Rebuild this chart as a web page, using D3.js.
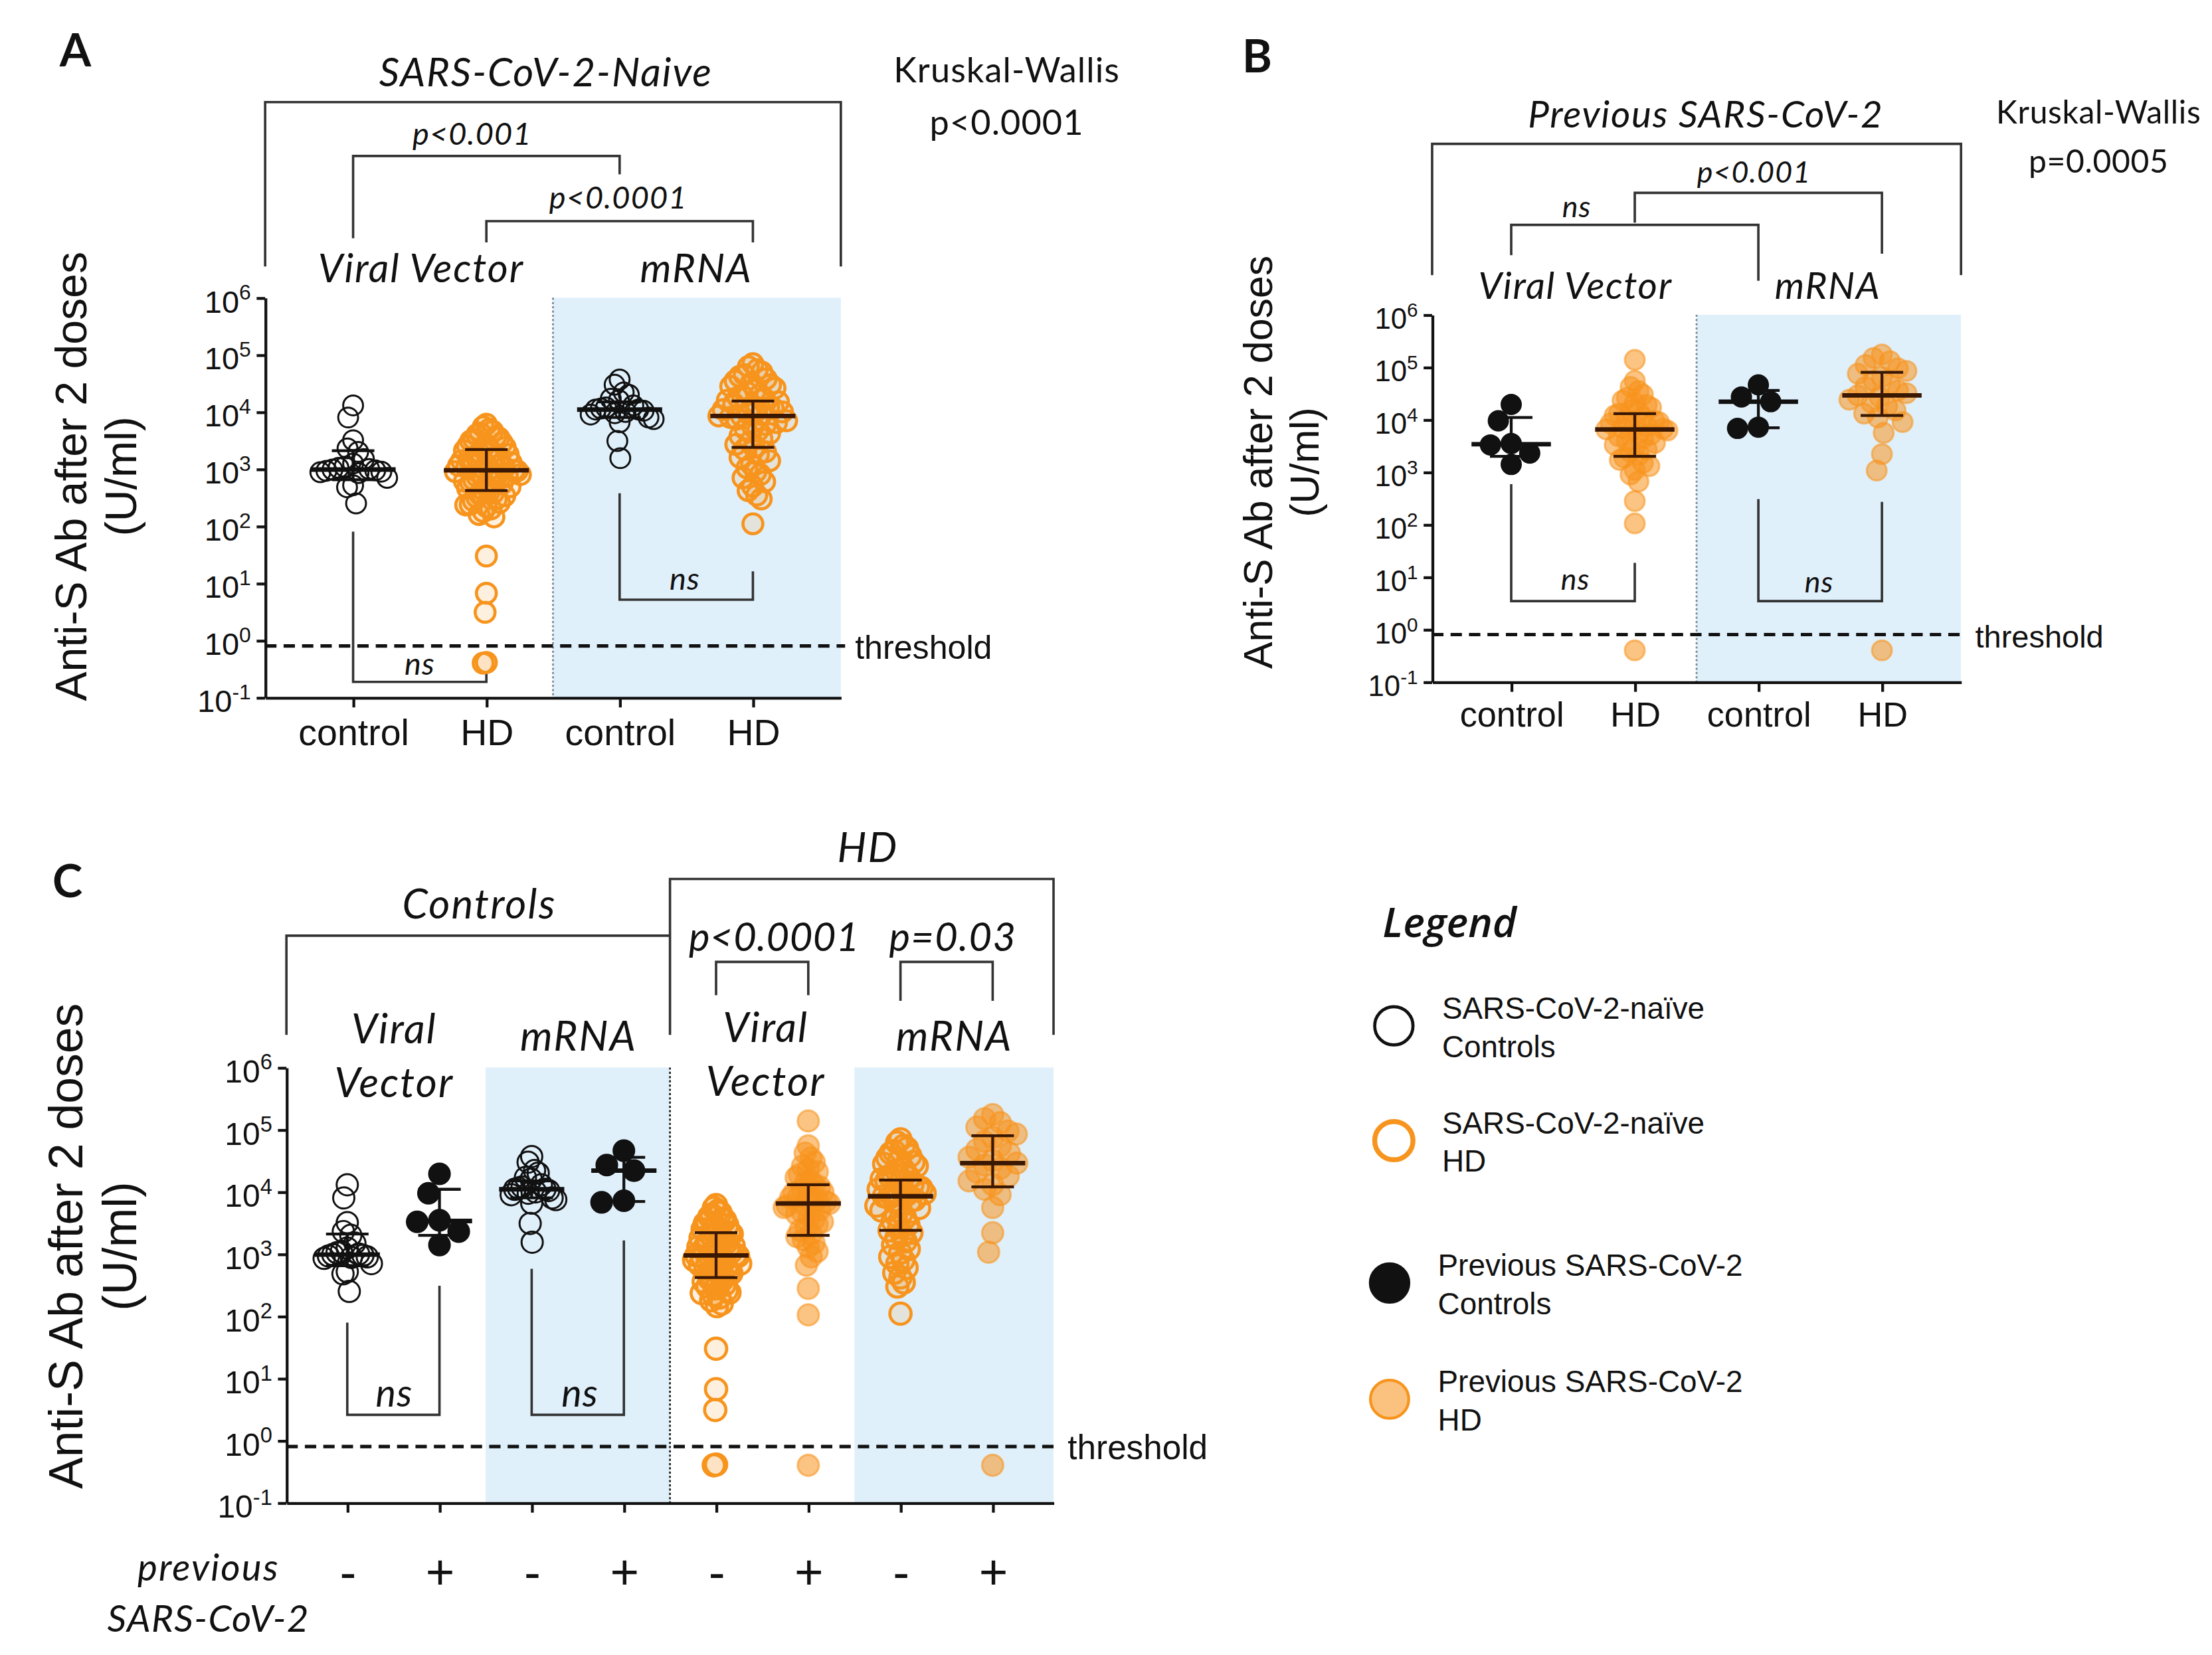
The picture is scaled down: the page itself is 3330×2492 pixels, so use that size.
<!DOCTYPE html>
<html lang="en">
<head>
<meta charset="UTF-8">
<title>Anti-S Ab after 2 doses</title>
<style>
  body { margin: 0; background: #fff; }
  svg { display: block; }
</style>
<script src="https://d3js.org/d3.v7.min.js"></script>
</head>
<body>
<div id="chart"></div>
<script>
// ---------------------------------------------
// Data: anti-S antibody (U/ml)
// ---------------------------------------------
const naiveCtrlVV = [13000, 8000, 3200, 2300, 2000, 1500, 1250, 1100, 1050, 1000, 980, 950, 930, 900, 880, 850, 700, 520, 480, 250];
const naiveHdVV = [6100, 5500, 5000, 4600, 4300, 4000, 3700, 3500, 3300, 3100, 2900, 2700, 2500, 2400, 2300, 2200, 2100, 2000,
  1900, 1800, 1700, 1600, 1500, 1450, 1400, 1350, 1300, 1250, 1200, 1150, 1100, 1050, 1000, 980, 950, 930, 900, 870, 840, 800,
  770, 740, 700, 670, 640, 610, 580, 550, 520, 490, 460, 430, 400, 380, 360, 340, 320, 300, 280, 260, 240, 235, 220, 200, 180,
  160, 145, 30, 6.7, 3.1, 0.41, 0.4];
const naiveCtrlMrna = [37000, 30000, 22000, 20000, 17000, 16000, 13000, 12000, 11500, 11000, 11000, 10500, 10000, 9500, 9000, 8000, 7500, 6600, 3100, 1550];
const naiveHdMrna = [70000, 62000, 55000, 50000, 45000, 42000, 38000, 35000, 32000, 30000, 28000, 26000, 24000, 22000, 20000,
  19000, 18000, 17000, 16000, 15000, 14000, 13000, 12000, 11500, 11000, 10500, 10000, 9500, 9000, 8500, 8500, 8000, 7500, 7000,
  6500, 6000, 5500, 5000, 4600, 4200, 3800, 3400, 3000, 2700, 2400, 2200, 2000, 1800, 1600, 1400, 1200, 1050, 900, 800, 700,
  600, 500, 420, 350, 300, 110];
const prevCtrlVV = [19500, 9500, 3500, 3300, 2300, 1400];
const prevHdVV = [138000, 55000, 42000, 35000, 30000, 26000, 23000, 21000, 19000, 17000, 15000, 14000, 13000, 12000, 11000,
  10000, 9500, 9000, 8500, 8000, 7500, 7000, 6700, 6500, 6200, 6000, 5600, 5200, 4800, 4400, 4000, 3600, 3300, 3000, 2700,
  2400, 2100, 1900, 1700, 1500, 1300, 1100, 900, 660, 280, 105, 0.4];
const prevCtrlMrna = [46000, 27000, 22000, 7200, 6800];
const prevHdMrna = [175000, 150000, 130000, 110000, 95000, 85000, 75000, 65000, 55000, 48000, 42000, 36000, 32000, 29000,
  27000, 24000, 21000, 18000, 15000, 13000, 11000, 9000, 5600, 2200, 1070, 0.4];

// median, 25th and 75th percentile drawn in the figure
const naiveCtrlVVStats = [980, 650, 2100];
const naiveHdVVStats = [950, 420, 2200];
const naiveCtrlMrnaStats = [11000, 8000, 15000];
const naiveHdMrnaStats = [8500, 2400, 15500];
const prevCtrlVVStats = [3400, 2000, 11000];
const prevHdVVStats = [6500, 2000, 13000];
const prevCtrlMrnaStats = [22000, 7000, 36000];
const prevHdMrnaStats = [29000, 12000, 80000];

const yTickExps = [-1, 0, 1, 2, 3, 4, 5, 6];
const threshold = 0.8;
const catLabelsAB = ["control", "HD", "control", "HD"];
const catLabelsC = ["-", "+", "-", "+", "-", "+", "-", "+"];

// ---------------------------------------------
// Setup
// ---------------------------------------------
const W = 1560, H = 1167.4;
const svg = d3.select("#chart").append("svg")
  .attr("width", 3330).attr("height", 2492)
  .attr("viewBox", `0 0 ${W} ${H}`);
svg.append("rect").attr("width", W).attr("height", H).attr("fill", "#fff");

const CAL = "Lato, 'Open Sans', sans-serif";
const ARI = "'Liberation Sans', Arial, sans-serif";
const INK = "#111";
const ORANGE = "#F7941D";
const BAND = "#E0F0FB";

const markStyle = {
  naiveCtrl: {fill: "none", fo: 1, stroke: INK, so: 1, sw: 1.4, bar: INK},
  naiveHd: {fill: ORANGE, fo: 0.14, stroke: ORANGE, so: 1, sw: 2.2, bar: "#3a1803"},
  prevCtrl: {fill: INK, fo: 1, stroke: INK, so: 1, sw: 1, bar: INK},
  prevHd: {fill: ORANGE, fo: 0.55, stroke: ORANGE, so: 0.55, sw: 1.5, bar: "#3a1803"}
};

function label(x, y, s, size, opt = {}) {
  return svg.append("text").attr("x", x).attr("y", y)
    .attr("font-family", opt.font || CAL)
    .attr("font-size", size)
    .attr("font-style", opt.italic ? "italic" : "normal")
    .attr("font-weight", opt.weight || (opt.bold ? "bold" : "normal"))
    .attr("letter-spacing", opt.ls || (opt.font ? 0 : 0.5))
    .attr("text-anchor", opt.anchor || "middle")
    .attr("fill", INK)
    .text(s);
}

// beeswarm: push each point sideways until it clears the ones already placed,
// then squeeze the whole group so it never gets wider than maxW each side
function swarm(values, y, gap, maxW) {
  const pts = values.map(v => ({v: v, y: y(v), x: 0})).sort((a, b) => a.y - b.y);
  const placed = [];
  pts.forEach(p => {
    const blocks = [];
    placed.forEach(q => {
      const dy = Math.abs(q.y - p.y);
      if (dy < gap) {
        const dx = Math.sqrt(gap * gap - dy * dy);
        blocks.push([q.x - dx, q.x + dx]);
      }
    });
    const cands = [0];
    blocks.forEach(b => cands.push(b[0], b[1]));
    cands.sort((a, b) => Math.abs(a) - Math.abs(b));
    for (const c of cands) {
      if (blocks.every(b => c <= b[0] + 1e-6 || c >= b[1] - 1e-6)) { p.x = c; break; }
    }
    placed.push(p);
  });
  const wide = d3.max(placed, p => Math.abs(p.x)) || 1;
  const k = Math.min(1, maxW / wide);
  placed.forEach(p => { p.x *= k; });
  return placed;
}

// ---------------------------------------------
// Panel drawing
// ---------------------------------------------
function drawPanel(o) {
  const n = o.labels.length;
  const x = d3.scalePoint().domain(d3.range(n)).range([o.left, o.right]).padding(o.pad);
  const y = d3.scaleLog().domain([0.1, 1e6]).range([o.bottom, o.top]);
  const edge = v => Math.max(o.left, Math.min(o.right, x(0) + v * x.step()));
  const g = svg.append("g");

  // blue shaded (mRNA) columns
  o.bands.forEach(b => {
    g.append("rect")
      .attr("x", edge(b[0])).attr("y", o.top)
      .attr("width", edge(b[1]) - edge(b[0])).attr("height", o.bottom - o.top)
      .attr("fill", BAND);
  });

  // dotted divider
  g.append("line")
    .attr("x1", edge(o.divider)).attr("x2", edge(o.divider))
    .attr("y1", o.top).attr("y2", o.bottom)
    .attr("stroke", o.dividerColor).attr("stroke-width", 1.3)
    .attr("stroke-dasharray", "1.5,1.5");

  // threshold
  g.append("line")
    .attr("x1", o.left).attr("x2", o.right + 3)
    .attr("y1", y(threshold)).attr("y2", y(threshold))
    .attr("stroke", INK).attr("stroke-width", 2.4)
    .attr("stroke-dasharray", "8,5");
  label(o.right + 10, y(threshold) + 9, "threshold", o.thrFont, {font: ARI, anchor: "start"});

  // brackets
  o.brackets.forEach(b => {
    g.append("path")
      .attr("d", `M${edge(b[0])},${b[3]}V${b[2]}H${edge(b[1])}V${b[4]}`)
      .attr("fill", "none").attr("stroke", "#333").attr("stroke-width", 1.7);
  });

  // points
  o.groups.forEach((grp, i) => {
    const st = markStyle[grp[2]];
    const pts = swarm(grp[0], y, o.r * 2.1, o.maxW);
    g.append("g").selectAll("circle")
      .data(pts)
      .join("circle")
      .attr("cx", d => x(i) + d.x)
      .attr("cy", d => d.y)
      .attr("r", o.r)
      .attr("fill", st.fill).attr("fill-opacity", st.fo)
      .attr("stroke", st.stroke).attr("stroke-opacity", st.so)
      .attr("stroke-width", st.sw);
  });

  // median + interquartile range
  o.groups.forEach((grp, i) => {
    const s = grp[1];
    const st = markStyle[grp[2]];
    const cx = x(i);
    const bars = g.append("g").attr("stroke", st.bar).attr("fill", "none");
    bars.append("line").attr("x1", cx).attr("x2", cx).attr("y1", y(s[1])).attr("y2", y(s[2])).attr("stroke-width", 2);
    bars.append("line").attr("x1", cx - o.ch).attr("x2", cx + o.ch).attr("y1", y(s[1])).attr("y2", y(s[1])).attr("stroke-width", 2);
    bars.append("line").attr("x1", cx - o.ch).attr("x2", cx + o.ch).attr("y1", y(s[2])).attr("y2", y(s[2])).attr("stroke-width", 2);
    bars.append("line").attr("x1", cx - o.mh).attr("x2", cx + o.mh).attr("y1", y(s[0])).attr("y2", y(s[0])).attr("stroke-width", 3.2);
  });

  // y axis
  const yAxis = g.append("g")
    .attr("transform", `translate(${o.left},0)`)
    .call(d3.axisLeft(y).tickValues(yTickExps.map(e => Math.pow(10, e))).tickSize(6).tickSizeOuter(0).tickPadding(4));
  yAxis.select(".domain").attr("stroke", INK).attr("stroke-width", 2);
  yAxis.selectAll(".tick line").attr("stroke", INK).attr("stroke-width", 2);
  yAxis.selectAll(".tick text")
    .attr("font-family", ARI).attr("font-size", o.tickFont).attr("fill", INK).attr("dy", "0.45em")
    .text(null)
    .each(function(d) {
      const t = d3.select(this);
      t.append("tspan").text("10");
      t.append("tspan").attr("dy", "-0.6em").attr("font-size", "0.68em").text(Math.round(Math.log10(d)));
    });

  // x axis
  const xAxis = g.append("g")
    .attr("transform", `translate(0,${o.bottom})`)
    .call(d3.axisBottom(x).tickSize(7).tickSizeOuter(0).tickPadding(o.labelPad).tickFormat(i => o.labels[i]));
  xAxis.select(".domain").attr("stroke", INK).attr("stroke-width", 2);
  xAxis.selectAll(".tick line").attr("stroke", INK).attr("stroke-width", 2);
  xAxis.selectAll(".tick text")
    .attr("font-family", ARI).attr("font-size", o.labelFont).attr("fill", INK);

  // y title
  const yt = svg.append("text")
    .attr("transform", `translate(${o.titleX},${o.titleY}) rotate(-90)`)
    .attr("text-anchor", "middle").attr("font-family", ARI)
    .attr("font-size", o.titleFont).attr("fill", INK);
  yt.append("tspan").attr("x", 0).attr("y", 0).text("Anti-S Ab after 2 doses");
  yt.append("tspan").attr("x", 0).attr("y", o.titleGap).text("(U/ml)");
}

// ---------------------------------------------
// Panel A: SARS-CoV-2-naive
// ---------------------------------------------
drawPanel({
  left: 187, right: 593, top: 210, bottom: 492, pad: 0.66,
  r: 7, maxW: 24, mh: 30, ch: 15,
  labels: catLabelsAB,
  groups: [[naiveCtrlVV, naiveCtrlVVStats, "naiveCtrl"], [naiveHdVV, naiveHdVVStats, "naiveHd"],
           [naiveCtrlMrna, naiveCtrlMrnaStats, "naiveCtrl"], [naiveHdMrna, naiveHdMrnaStats, "naiveHd"]],
  bands: [[1.5, 99]], divider: 1.5, dividerColor: "#7f8c96",
  brackets: [[-99, 99, 72, 188, 188], [0, 2, 110, 168, 123], [1, 3, 156, 171, 171],
             [0, 1, 481, 375, 474], [2, 3, 423, 348, 403]],
  tickFont: 22, labelFont: 26, labelPad: 8, thrFont: 23.5,
  titleX: 61, titleY: 336, titleFont: 31, titleGap: 35
});
label(42, 47, "A", 32, {bold: true, anchor: "start", ls: 0.01});
label(385, 61, "SARS-CoV-2-Naive", 28, {italic: true, ls: 0.9});
label(710, 58, "Kruskal-Wallis", 24.5, {ls: 0.5});
label(710, 95, "p<0.0001", 24.5, {ls: 0.5});
label(333, 102, "p<0.001", 22, {italic: true});
label(436, 147, "p<0.0001", 22, {italic: true});
label(297, 199, "Viral Vector", 28, {italic: true, ls: 0.9});
label(491, 199, "mRNA", 28, {italic: true, ls: 0.9});
label(296, 476, "ns", 22, {italic: true});
label(483, 416, "ns", 22, {italic: true});

// ---------------------------------------------
// Panel B: previous SARS-CoV-2
// ---------------------------------------------
drawPanel({
  left: 1010, right: 1383, top: 222, bottom: 481, pad: 0.64,
  r: 7, maxW: 23, mh: 28, ch: 15,
  labels: catLabelsAB,
  groups: [[prevCtrlVV, prevCtrlVVStats, "prevCtrl"], [prevHdVV, prevHdVVStats, "prevHd"],
           [prevCtrlMrna, prevCtrlMrnaStats, "prevCtrl"], [prevHdMrna, prevHdMrnaStats, "prevHd"]],
  bands: [[1.5, 99]], divider: 1.5, dividerColor: "#7f8c96",
  brackets: [[-99, 99, 101.5, 194, 194], [0, 2, 158.6, 180, 198], [1, 3, 136, 157, 179],
             [0, 1, 424, 341.5, 397], [2, 3, 424, 352, 354]],
  tickFont: 20.5, labelFont: 24.5, labelPad: 7, thrFont: 22,
  titleX: 897, titleY: 326, titleFont: 28.5, titleGap: 33
});
label(876, 51, "B", 32, {bold: true, anchor: "start", ls: 0.01});
label(1203, 90, "Previous SARS-CoV-2", 26.5, {italic: true, ls: 0.8});
label(1480, 87, "Kruskal-Wallis", 22.5, {ls: 0.3});
label(1480, 122, "p=0.0005", 22.5, {ls: 0.3});
label(1112, 153, "ns", 21, {italic: true});
label(1237, 129, "p<0.001", 21, {italic: true});
label(1111, 211, "Viral Vector", 26.5, {italic: true, ls: 0.8});
label(1289, 211, "mRNA", 26.5, {italic: true, ls: 0.8});
label(1111, 416, "ns", 21, {italic: true});
label(1283, 418, "ns", 21, {italic: true});

// ---------------------------------------------
// Panel C: all eight groups
// ---------------------------------------------
drawPanel({
  left: 202, right: 743, top: 753, bottom: 1060, pad: 0.66,
  r: 7.5, maxW: 17, mh: 23, ch: 15,
  labels: catLabelsC,
  groups: [[naiveCtrlVV, naiveCtrlVVStats, "naiveCtrl"], [prevCtrlVV, prevCtrlVVStats, "prevCtrl"],
           [naiveCtrlMrna, naiveCtrlMrnaStats, "naiveCtrl"], [prevCtrlMrna, prevCtrlMrnaStats, "prevCtrl"],
           [naiveHdVV, naiveHdVVStats, "naiveHd"], [prevHdVV, prevHdVVStats, "prevHd"],
           [naiveHdMrna, naiveHdMrnaStats, "naiveHd"], [prevHdMrna, prevHdMrnaStats, "prevHd"]],
  bands: [[1.5, 3.5], [5.5, 99]], divider: 3.5, dividerColor: "#222",
  brackets: [[-99, 3.5, 660, 730, 660], [3.5, 99, 620, 730, 730],
             [4, 5, 678.5, 702, 702], [6, 7, 678.5, 706, 706],
             [0, 1, 998, 933, 907], [2, 3, 998, 895, 875]],
  tickFont: 22.5, labelFont: 35, labelPad: 29, thrFont: 24,
  titleX: 58, titleY: 879, titleFont: 33.5, titleGap: 38
});
label(37, 633, "C", 32, {bold: true, anchor: "start", ls: 0.01});
label(338, 648, "Controls", 29, {italic: true, ls: 1});
label(612, 608, "HD", 29, {italic: true, ls: 1});
label(546, 671, "p<0.0001", 28, {italic: true, ls: 0.2});
label(672, 671, "p=0.03", 28, {italic: true, ls: 0.6});
label(278, 736, "Viral", 29, {italic: true, ls: 1});
label(278, 774, "Vector", 29, {italic: true, ls: 1});
label(408, 741, "mRNA", 29, {italic: true, ls: 1});
label(540, 735, "Viral", 29, {italic: true, ls: 1});
label(540, 773, "Vector", 29, {italic: true, ls: 1});
label(673, 741, "mRNA", 29, {italic: true, ls: 1});
label(278, 992, "ns", 27, {italic: true});
label(409, 992, "ns", 27, {italic: true});
label(147, 1115, "previous", 26.5, {italic: true, ls: 1});
label(147, 1151, "SARS-CoV-2", 26.5, {italic: true, ls: 0.6});

// ---------------------------------------------
// Legend
// ---------------------------------------------
const legendLabels = [["SARS-CoV-2-naïve", "Controls"], ["SARS-CoV-2-naïve", "HD"],
                      ["Previous SARS-CoV-2", "Controls"], ["Previous SARS-CoV-2", "HD"]];
const legendKeys = ["naiveCtrl", "naiveHd", "prevCtrl", "prevHd"];
const legendFill = ["none", "none", INK, "#FBC27F"];
const legendY = [723.6, 804.6, 905, 987];
label(975, 661, "Legend", 29, {italic: true, anchor: "start", font: "'Open Sans', sans-serif", weight: 600});
legendKeys.forEach((k, i) => {
  const st = markStyle[k];
  const cx = i < 2 ? 983 : 980;
  svg.append("circle")
    .attr("cx", cx).attr("cy", legendY[i]).attr("r", 13.5)
    .attr("fill", legendFill[i])
    .attr("stroke", st.stroke)
    .attr("stroke-width", k === "naiveHd" ? 3.5 : (k === "prevHd" ? 2 : 2.2));
  const tx = i < 2 ? 1017 : 1014;
  label(tx, legendY[i] - 5, legendLabels[i][0], 21.5, {font: ARI, anchor: "start"});
  label(tx, legendY[i] + 22, legendLabels[i][1], 21.5, {font: ARI, anchor: "start"});
});
</script>
</body>
</html>
